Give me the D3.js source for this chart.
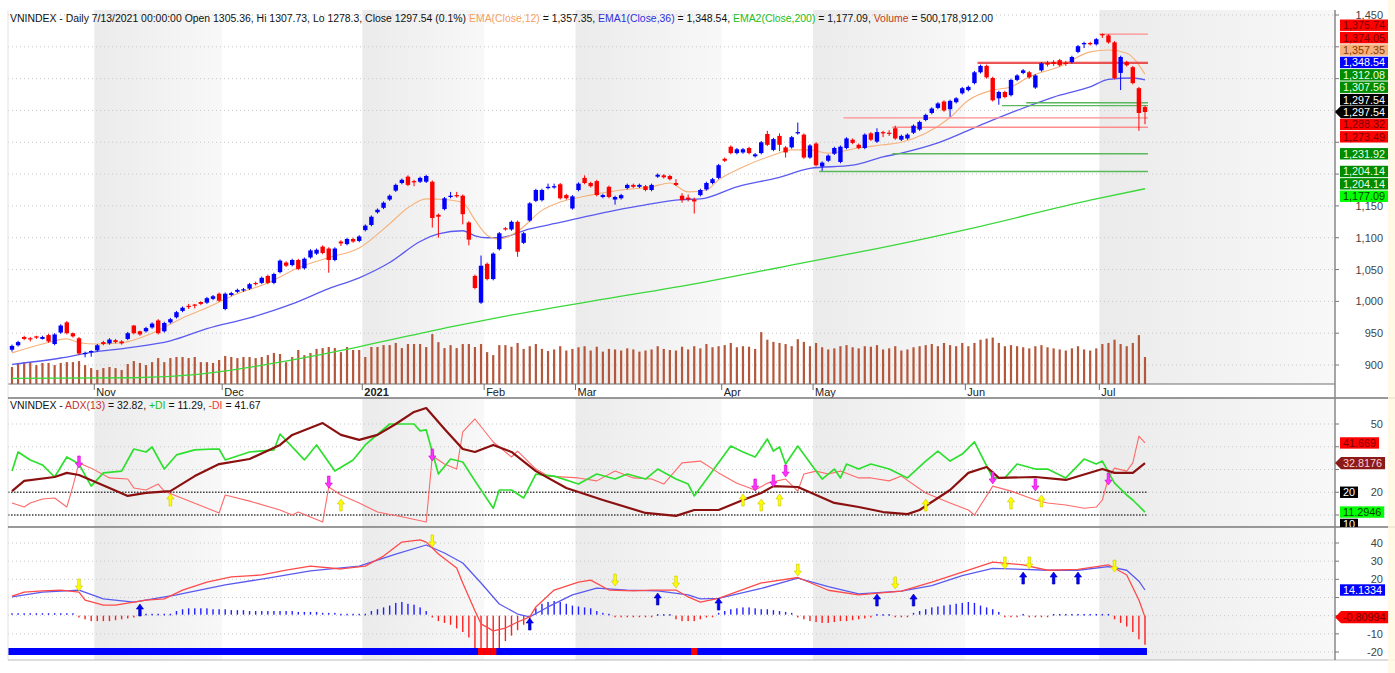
<!DOCTYPE html>
<html>
<head>
<meta charset="utf-8">
<script src="https://cdn.jsdelivr.net/npm/d3@7"></script>
<style>
  body { margin: 0; background: #fff; }
  svg { display: block; font-family: "Liberation Sans", Arial, sans-serif; }
</style>
</head>
<body>
<svg width="1395" height="673"></svg>
<script>
// ---- data ----
// daily bars, [open, high, low, close]
const ohlc = [
  [924,932,921,930],[931,938,929,936],[944,946,939,941],[942,944,937,941],[945,946,941,943],
  [941,946,940,944],[947,949,935,937],[933,950,931,948],[951,964,949,962],[967,969,948,950],
  [950,951,943,945],[942,944,916,918],[918,921,912,919],[920,923,913,922],[923,933,921,931],
  [936,938,931,933],[934,942,932,940],[939,941,934,936],[937,939,932,934],[941,952,939,950],
  [962,963,948,950],[953,954,946,948],[953,960,951,958],[959,967,957,965],[970,972,948,950],
  [953,968,951,966],[967,974,965,972],[975,985,973,983],[985,992,983,990],[993,996,988,991],
  [995,996,989,994],[999,1000,994,996],[998,1007,996,1005],[1004,1010,1002,1008],[1012,1014,999,1001],
  [988,1014,986,1012],[1010,1015,1008,1013],[1015,1020,1013,1018],[1017,1021,1015,1019],[1020,1029,1018,1027],
  [1029,1031,1025,1027],[1029,1039,1027,1037],[1040,1042,1027,1029],[1029,1045,1027,1043],[1046,1066,1044,1064],
  [1061,1063,1054,1056],[1057,1067,1055,1065],[1065,1067,1049,1051],[1052,1069,1050,1067],[1069,1082,1067,1080],
  [1075,1083,1073,1081],[1086,1088,1074,1076],[1083,1085,1045,1065],[1065,1085,1063,1083],[1094,1096,1087,1091],
  [1090,1100,1088,1098],[1098,1100,1092,1094],[1095,1104,1093,1102],[1112,1121,1110,1119],[1120,1135,1118,1133],
  [1140,1146,1138,1144],[1147,1157,1145,1155],[1160,1168,1158,1166],[1174,1185,1172,1183],[1186,1193,1184,1191],
  [1196,1198,1181,1183],[1189,1191,1181,1187],[1188,1196,1186,1194],[1188,1199,1186,1197],[1188,1190,1116,1131],
  [1136,1138,1100,1133],[1145,1164,1143,1162],[1164,1172,1162,1166],[1167,1172,1163,1165],[1166,1168,1121,1137],
  [1124,1126,1088,1097],[1040,1042,1019,1021],[998,1072,996,1056],[1059,1061,1033,1035],[1035,1077,1033,1075],
  [1082,1109,1080,1107],[1115,1117,1111,1113],[1113,1127,1111,1125],[1125,1127,1070,1078],[1092,1109,1090,1107],
  [1127,1156,1125,1154],[1158,1177,1156,1175],[1159,1177,1157,1175],[1178,1185,1176,1180],[1179,1185,1177,1181],
  [1184,1186,1160,1162],[1167,1169,1160,1162],[1146,1167,1144,1165],[1175,1187,1173,1185],[1194,1198,1184,1186],
  [1186,1188,1179,1181],[1189,1191,1165,1167],[1164,1169,1162,1167],[1180,1182,1162,1164],[1160,1166,1152,1164],
  [1162,1169,1160,1167],[1178,1185,1176,1183],[1183,1185,1178,1180],[1180,1185,1178,1183],[1181,1183,1173,1175],
  [1175,1185,1173,1183],[1196,1201,1194,1199],[1198,1200,1193,1195],[1197,1199,1190,1192],[1186,1192,1181,1183],
  [1166,1170,1155,1159],[1163,1168,1157,1160],[1160,1163,1138,1157],[1167,1177,1165,1175],[1176,1188,1174,1186],
  [1186,1194,1184,1192],[1194,1216,1192,1214],[1224,1226,1219,1221],[1243,1245,1231,1233],[1233,1241,1231,1239],
  [1234,1241,1232,1239],[1241,1243,1231,1233],[1228,1233,1226,1231],[1233,1252,1231,1250],[1263,1268,1244,1246],
  [1238,1257,1236,1255],[1260,1264,1236,1246],[1242,1244,1226,1234],[1242,1260,1240,1258],[1264,1281,1262,1266],
  [1262,1264,1224,1226],[1226,1247,1224,1245],[1248,1250,1212,1214],[1212,1220,1205,1218],[1221,1231,1219,1229],
  [1232,1243,1230,1241],[1219,1245,1217,1243],[1241,1258,1239,1256],[1254,1256,1247,1249],[1246,1248,1239,1241],
  [1241,1264,1239,1262],[1264,1266,1252,1254],[1251,1272,1249,1266],[1266,1268,1258,1264],[1265,1269,1260,1264],
  [1272,1276,1254,1256],[1254,1262,1252,1260],[1256,1264,1254,1262],[1265,1278,1263,1276],[1270,1284,1268,1282],
  [1285,1295,1283,1293],[1296,1305,1294,1303],[1304,1313,1302,1311],[1314,1316,1298,1300],[1302,1317,1290,1315],
  [1313,1321,1311,1319],[1327,1337,1325,1335],[1332,1339,1330,1337],[1343,1362,1341,1360],[1360,1372,1358,1370],
  [1370,1372,1350,1352],[1351,1353,1314,1316],[1319,1331,1309,1329],[1329,1331,1319,1321],[1324,1350,1322,1348],
  [1348,1357,1346,1355],[1359,1365,1357,1363],[1360,1362,1350,1352],[1336,1357,1334,1355],[1363,1376,1361,1374],
  [1375,1378,1369,1372],[1376,1379,1370,1373],[1379,1381,1369,1371],[1375,1378,1370,1373],[1376,1386,1374,1384],
  [1392,1403,1390,1401],[1404,1408,1398,1406],[1406,1408,1402,1404],[1404,1414,1402,1412],[1420,1421,1414,1418],
  [1418,1420,1405,1407],[1407,1409,1349,1351],[1359,1386,1332,1384],[1376,1378,1369,1371],[1368,1370,1341,1343],
  [1335,1337,1268,1296],[1305.36,1307.73,1278.3,1297.54]
];

// volume, millions of shares
const volume = [
  315,390,405,405,350,390,390,350,390,405,405,
  425,350,295,260,295,315,295,260,370,425,
  390,350,405,480,405,480,500,500,480,500,
  405,405,390,445,520,500,480,500,500,480,
  500,535,575,555,405,500,630,535,575,650,
  665,685,665,590,685,630,630,500,685,685,
  720,720,760,665,740,740,740,685,925,775,
  665,720,665,740,740,685,740,590,535,720,
  720,690,760,650,700,740,650,610,640,700,
  620,650,680,700,620,690,600,650,640,620,
  660,640,600,620,640,700,650,630,620,690,
  640,700,660,740,680,700,720,760,680,700,
  690,650,960,820,780,760,740,700,830,780,
  700,760,680,640,660,700,720,680,660,700,
  690,720,640,660,700,620,640,680,700,720,
  740,700,760,720,700,760,700,760,820,840,
  860,760,700,720,700,680,660,700,720,680,
  660,640,620,660,700,640,620,660,740,760,
  820,740,700,760,905,500
];

// moving averages as read, [bar, value]
const ema12 = [[0,919],[5,933],[9,941],[11,935],[14,933],[18,935],[23,950],[28,974],[32,990],[37,1012],
  [42,1029],[47,1053],[52,1069],[57,1084],[62,1122],[65,1147],[68,1161],[71,1160],[74,1155],[76,1128],
  [78,1104],[80,1098],[83,1110],[87,1143],[90,1156],[95,1167],[100,1175],[105,1180],[108,1186],[111,1172],
  [114,1175],[116,1191],[120,1211],[125,1230],[128,1238],[131,1238],[134,1233],[139,1241],[143,1246],[146,1250],
  [150,1264],[154,1289],[157,1316],[161,1332],[164,1337],[167,1353],[172,1369],[177,1392],[180,1395],[183,1390],[186,1357]];
const ema36 = [[0,901],[8,911],[13,920],[19,927],[26,938],[32,957],[39,974],[46,996],[52,1020],[57,1037],
  [62,1061],[67,1094],[70,1106],[74,1111],[76,1103],[78,1100],[80,1100],[85,1114],[90,1124],[97,1139],
  [103,1150],[110,1160],[113,1161],[119,1180],[126,1195],[131,1209],[138,1214],[143,1227],[146,1233],[152,1249],
  [159,1277],[165,1300],[172,1324],[177,1337],[180,1349],[184,1351],[186,1348]];
const ema200 = [[0,879],[20,880],[30,885],[40,898],[50,915],[60,935],[72,960],[80,975],[95,1000],[113,1029],
  [129,1059],[142,1083],[159,1118],[177,1159],[186,1177]];

// support / resistance lines: [level, first bar, type]
const levels = [[1420,179,"res2"],[1375.74,159,"res"],[1374.05,159,"res"],[1312.08,167,"sup"],[1307.56,163,"sup"],
  [1288.32,137,"res2"],[1273.49,145,"res2"],[1231.92,145,"sup"],[1204.14,133,"sup"]];

// ADX(13), +DI, -DI as read, [bar, value]
const adx = [[0,20.5],[2,25],[7,26.7],[9,28.5],[11,27.6],[16,21.9],[19,18.4],[22,19.7],[26,20.5],[30,27.1],
  [34,32.4],[39,34.6],[44,40.8],[46,45.2],[51,50.4],[54,45.2],[57,43],[60,45.2],[63,50],[66,55.3],[68,57],
  [71,47.8],[74,39],[76,37.7],[79,40.8],[82,37.7],[86,29.3],[91,21.9],[97,16.6],[104,10.9],[109,9.6],
  [112,12.2],[116,12.2],[120,16.6],[123,19.7],[125,22.7],[129,22.3],[132,18.8],[135,15.3],[139,13.5],
  [143,11.3],[147,10.4],[149,12.2],[154,21],[157,28.5],[160,31.1],[162,26.3],[168,26.7],[173,25.4],
  [179,30.2],[181,28.5],[184,28.5],[186,32.82]];
const plusDI = [[0,29.3],[1,37.7],[3,34.2],[5,32],[7,26.7],[9,35.5],[11,32.4],[13,22.7],[15,28.5],[18,29.3],
  [20,39],[22,37.7],[23,39.9],[25,30.2],[27,36.4],[30,38.6],[33,39],[34,39],[35,34.2],[39,37.7],[43,38.6],
  [44,45.6],[48,34.2],[50,40.8],[53,29.3],[56,34.2],[58,40.8],[62,50],[66,50],[67,47],[68,47.4],[70,28],
  [72,34.6],[74,33.3],[76,25],[79,13],[80,21],[82,21],[84,17.5],[86,28],[89,27.1],[93,23.6],[96,28],
  [99,25.8],[101,28],[104,25.8],[106,30.2],[109,25.8],[111,23.6],[112,18.4],[118,40.3],[120,37.7],
  [122,35.5],[124,43.4],[125,38.1],[126,39.9],[127,32.4],[129,40.3],[132,29.3],[133,25.8],[135,30.2],
  [136,26.3],[137,32.4],[139,30.2],[141,32.4],[144,30.2],[147,26.3],[150,33.7],[152,38.1],[154,33.7],
  [156,36.8],[158,42.1],[161,26.3],[163,26.3],[165,32.4],[168,30.2],[170,30.2],[173,26.3],[176,34.6],
  [178,32.4],[179,33.7],[181,24],[183,18.8],[184,16.6],[186,11.29]];
const minusDI = [[0,15.3],[2,13.5],[3,15.3],[5,17],[7,17.5],[9,13.5],[10,22.7],[11,32.9],[13,30.6],[16,26.3],
  [19,25.8],[20,21.9],[22,21],[24,23.6],[25,20.5],[27,18.4],[34,10.9],[35,18.8],[39,16.1],[44,12.2],
  [46,10],[47,11.3],[51,6.9],[52,22.3],[54,18.8],[57,15.3],[60,11.3],[64,9.2],[68,6.9],[69,35.9],[71,32.4],
  [73,30.2],[74,46.5],[76,52.2],[79,42.1],[82,35.5],[83,38.1],[86,30.2],[88,27.1],[93,26.3],[96,25],
  [99,29.3],[102,26.3],[105,25.8],[107,23.6],[110,32.9],[113,33.7],[116,28.5],[119,24],[122,21],[124,24],
  [127,25.8],[129,20.5],[130,28],[132,29.3],[134,28],[136,29.3],[139,26.3],[141,26.3],[144,25],[146,27.1],
  [150,19.7],[154,15.3],[157,12.2],[158,10],[161,22.7],[164,20.5],[168,16.6],[170,15.3],[173,14.4],
  [176,13],[178,13.5],[179,16.6],[180,26.3],[181,30.6],[183,29.3],[184,32.9],[185,44.7],[186,41.67]];
const adxDown = [[11,33.3],[52,24.5],[69,36.4],[122,23.2],[125,25],[127,29.3],[161,26.3],[168,23.2],[180,25.8]];
const adxUp = [[26,16.6],[54,14.4],[120,16.6],[123,14.4],[126,16.6],[150,14.4],[164,15.3],[169,16.2]];

// MACD panel, [bar, value]
const macd = [[0,10.8],[2,13],[5,13.6],[8,14.1],[11,13],[12,8.6],[15,5.8],[17,5.8],[20,7.5],[22,8.6],
  [25,9.2],[28,14.1],[32,18.5],[36,21.3],[41,22.4],[45,25.1],[49,27.3],[54,25.7],[58,27.3],[61,32.8],
  [64,40.5],[67,41.7],[68,40.5],[70,33.9],[73,26.2],[74,18],[76,2.7],[77,-4.5],[79,-8.4],[81,-6.8],
  [83,-3.5],[85,-0.7],[86,4.8],[89,14.1],[93,18.5],[95,19.6],[98,14.1],[102,13.6],[105,14.1],[109,14.1],
  [111,10.3],[113,7.5],[116,9.5],[123,18],[129,21],[134,14],[139,11.4],[146,13.5],[151,18.5],[156,24],
  [161,29.5],[166,28],[170,25],[175,25.5],[180,28],[183,22.4],[185,8.6],[186,-0.81]];
const signal = [[0,10.3],[5,13],[11,14.1],[15,9.2],[20,7.5],[27,11.4],[35,16.9],[42,20.7],[49,24.6],[57,27.3],
  [63,33.9],[68,38.9],[71,34.5],[74,29],[77,18],[80,6.4],[83,0.9],[85,-0.7],[88,4.8],[92,11.4],[96,15.2],
  [101,14.1],[106,13.6],[111,11.4],[113,9.2],[116,9.5],[123,15],[129,20.7],[134,16],[139,12],[146,13.5],
  [151,16.5],[156,22],[161,26],[166,25.5],[170,25],[175,25],[180,27],[183,25],[185,19],[186,14.13]];
const hist = [
  0.8,0.8,0.8,0.8,0.8,0.8,0.8,0.8,0.8,0.8,0.8,
  -1,-2,-3,-3,-3,-3,-2.5,-2,-1.5,-1,
  0.5,0.5,0.5,0.5,0.5,0.5,
  2,3,3.5,3.5,3.5,3.5,3,
  3,3,2.5,2.5,2.5,2,2,2,2,2,2,2,2,1.5,1.5,1.5,1.5,1,1,1,
  0.5,0.5,0.5,0.5,0.5,
  2,3,4,5,6.5,7,6,5.5,4,2,
  -1,-3,-4,-5,-7,-9,-12,-19,-20,-20,-20,-18,-14,-11,-8,-5,-2,
  3.5,6,7,7.5,7,6,5,4.5,4,3.5,2,1,0.5,
  -0.5,-0.5,-0.5,-0.5,-0.5,-0.5,-0.5,
  0.3,0.3,0.3,
  -2,-3,-3,-3,-2,-1,-0.5,
  1,2,3,3.5,4,4,3.5,3,3,2.5,2,1.5,1,
  -1,-2,-3,-3.5,-4,-4,-3.5,-3,-3,-2.5,-2,-1.5,-1,
  0.3,0.3,0.3,
  -0.3,-0.3,-0.3,
  1,2,3,4,4.5,5,5.5,6,6.5,7,6.5,5,4,3,1.5,
  -0.4,-0.4,-0.4,
  0.4,
  -0.4,-0.4,-0.4,-0.4,
  0.4,0.4,0.4,0.4,0.4,0.4,0.4,0.4,0.4,0.4,
  -2,-4,-6,-9,-13,-16
];
const ribbonRed = [77, 78, 79, 112];
const macdDown = [[11,16.9],[69,41.1],[99,19.6],[109,18.5],[129,25.1],[145,18],[163,29],[167,29],[181,27.3]];
const macdUp = [[21,3.1],[85,-4.6],[106,9.2],[116,6.4],[142,8.6],[148,8.6],[166,20.7],[171,20.7],[175,20.7]];

// axes
const months = [[14,"Nov"],[35,"Dec"],[58,"2021"],[78,"Feb"],[93,"Mar"],[117,"Apr"],[132,"May"],[157,"Jun"],[179,"Jul"]];
const priceTicks = [1450,1400,1350,1300,1250,1200,1150,1100,1050,1000,950,900];
const adxTicks = [50,40,30,20,10];
const macdTicks = [40,30,20,10,0,-10,-20];

const priceTags = [
  {t:"1,375.74", v:1375.74, k:"red"}, {t:"1,374.05", v:1374.05, k:"red"},
  {t:"1,357.35", v:1357.35, k:"orange"}, {t:"1,348.54", v:1348.54, k:"blue"},
  {t:"1,312.08", v:1312.08, k:"green"}, {t:"1,307.56", v:1307.56, k:"green"},
  {t:"1,297.54", v:1297.54, k:"black"}, {t:"1,297.54", v:1297.54, k:"black", pin:true},
  {t:"1,288.32", v:1288.32, k:"red"}, {t:"1,273.49", v:1273.49, k:"red"},
  {t:"1,231.92", v:1231.92, k:"green"}, {t:"1,204.14", v:1204.14, k:"green"},
  {t:"1,204.14", v:1204.14, k:"green"}, {t:"1,177.09", v:1177.09, k:"lime"}
];
const adxTags = [
  {t:"41.669", v:41.669, k:"red"}, {t:"32.8176", v:32.8176, k:"maroon", pin:true},
  {t:"20", v:20, k:"black"}, {t:"11.2946", v:11.2946, k:"lime"}, {t:"10", v:10, k:"black"}
];
const macdTags = [
  {t:"14.1334", v:14.1334, k:"blue"}, {t:"-0.80994", v:-0.80994, k:"red", pin:true}
];

// ---- drawing ----
let svg = d3.select("svg");
const left = 8, right = 1335;
const main = {top: 10, bottom: 384}, pA = {top: 398, bottom: 527}, pM = {top: 528, bottom: 660};

let x = d3.scaleLinear().domain([0, ohlc.length - 1]).range([12, 1145]),
    yP = d3.scaleLinear().domain([900, 1450]).range([365, 15]),
    yV = d3.scaleLinear().domain([0, 1000]).range([384, 330]),
    yA = d3.scaleLinear().domain([10, 50]).range([515, 424]),
    yM = d3.scaleLinear().domain([-20, 40]).range([652, 543]);

const tagStyle = {
  red: ["#ff0000", "#7a0000"], orange: ["#f6b07c", "#8a3a00"], blue: ["#0000ff", "#ffffff"],
  green: ["#008c00", "#e6ffe6"], black: ["#000000", "#ffffff"], lime: ["#00ff00", "#004000"],
  maroon: ["#8b1a1a", "#ffd0d0"]
};

let defs = svg.append("defs");
let grad = defs.append("linearGradient").attr("id", "band").attr("x1", 0).attr("x2", 1).attr("y1", 0).attr("y2", 0);
grad.append("stop").attr("offset", "0%").attr("stop-color", "#ebebeb");
grad.append("stop").attr("offset", "100%").attr("stop-color", "#f8f8f8");

[["cMain", main], ["cA", pA], ["cM", pM]].forEach(function(c) {
  defs.append("clipPath").attr("id", c[0]).append("rect")
    .attr("x", left).attr("y", c[1].top).attr("width", right - left).attr("height", c[1].bottom - c[1].top);
  defs.append("clipPath").attr("id", c[0] + "R").append("rect")
    .attr("x", right).attr("y", c[1].top).attr("width", 60).attr("height", c[1].bottom - c[1].top);
});

// month bands in every panel
const bandEdges = [];
for (let k = 0; k < months.length; k += 2) {
  let x0 = x(months[k][0]) - 3,
      x1 = k + 1 < months.length ? x(months[k + 1][0]) - 3 : right;
  bandEdges.push([x0, x1]);
}
[main, pA, pM].forEach(function(p) {
  svg.append("g").selectAll("rect").data(bandEdges).enter().append("rect")
    .attr("x", d => d[0]).attr("width", d => d[1] - d[0])
    .attr("y", p.top).attr("height", p.bottom - p.top)
    .attr("fill", "url(#band)");
});

// grid
function grid(ticks, y, p) {
  svg.append("g").selectAll("line").data(ticks).enter().append("line")
    .attr("x1", left).attr("x2", right).attr("y1", d => y(d)).attr("y2", d => y(d))
    .attr("stroke", "#c8c8c8").attr("stroke-dasharray", "1,3")
    .attr("display", d => (y(d) < p.top + 2 || y(d) > p.bottom - 2) ? "none" : null);
}
grid(priceTicks, yP, main);
grid(adxTicks, yA, pA);
grid(macdTicks, yM, pM);

// ---- main panel ----
let gMain = svg.append("g").attr("clip-path", "url(#cMain)");

gMain.append("g").selectAll("rect").data(volume).enter().append("rect")
  .attr("x", (d, i) => x(i) - 1.1).attr("width", 2.2)
  .attr("y", d => yV(d)).attr("height", d => yV(0) - yV(d))
  .attr("fill", "#b5573a");

function drawLine(g, data, y, color, width, curve) {
  g.append("path").datum(data)
    .attr("fill", "none").attr("stroke", color).attr("stroke-width", width)
    .attr("stroke-linejoin", "round")
    .attr("d", d3.line().x(d => x(d[0])).y(d => y(d[1])).curve(curve || d3.curveLinear));
}
drawLine(gMain, ema200, yP, "#3ad83a", 1.3, d3.curveMonotoneX);
drawLine(gMain, ema36, yP, "#5a5af0", 1.3, d3.curveMonotoneX);
drawLine(gMain, ema12, yP, "#f7b27a", 1.1, d3.curveMonotoneX);

const levelColor = {res: "#e83030", res2: "#ff8c8c", sup: "#5cb85c"};
gMain.append("g").selectAll("line").data(levels).enter().append("line")
  .attr("x1", d => x(d[1]) - 3).attr("x2", x(ohlc.length - 1) + 3)
  .attr("y1", d => yP(d[0])).attr("y2", d => yP(d[0]))
  .attr("stroke", d => levelColor[d[2]])
  .attr("stroke-width", d => d[2] === "res" ? 1 : 1.4);

let candle = gMain.append("g").selectAll("g").data(ohlc).enter().append("g");
candle.append("line")
  .attr("x1", (d, i) => x(i)).attr("x2", (d, i) => x(i))
  .attr("y1", d => yP(d[1])).attr("y2", d => yP(d[2]))
  .attr("stroke", d => d[3] >= d[0] ? "#0000ff" : "#ff0000").attr("stroke-width", 1);
candle.append("rect")
  .attr("x", (d, i) => x(i) - 2.2).attr("width", 4.4)
  .attr("y", d => yP(Math.max(d[0], d[3])))
  .attr("height", d => Math.max(1.2, Math.abs(yP(d[0]) - yP(d[3]))))
  .attr("fill", d => d[3] >= d[0] ? "#0000ff" : "#ff0000");

// header
let head = svg.append("text").attr("x", 10).attr("y", 22).attr("font-size", 10.45).attr("fill", "#111");
[["VNINDEX - Daily 7/13/2021 00:00:00 Open 1305.36, Hi 1307.73, Lo 1278.3, Close 1297.54 (0.1%) ", "#111"],
 ["EMA(Close,12)", "#f7a060"], [" = 1,357.35, ", "#111"], ["EMA1(Close,36)", "#3030e0"], [" = 1,348.54, ", "#111"],
 ["EMA2(Close,200)", "#20c020"], [" = 1,177.09, ", "#111"], ["Volume", "#c04020"], [" = 500,178,912.00", "#111"]]
  .forEach(function(s) { head.append("tspan").attr("fill", s[1]).text(s[0]); });

// x axis
svg.append("line").attr("x1", left).attr("x2", right).attr("y1", 384).attr("y2", 384).attr("stroke", "#707070");
let mt = svg.append("g").selectAll("g").data(months).enter().append("g");
mt.append("line").attr("x1", d => x(d[0]) - 3).attr("x2", d => x(d[0]) - 3)
  .attr("y1", 384).attr("y2", 390).attr("stroke", "#707070");
mt.append("text").attr("x", d => x(d[0]) - 1).attr("y", 396).attr("font-size", 11)
  .attr("font-weight", d => d[1] === "2021" ? "bold" : null).attr("fill", "#222").text(d => d[1]);

// ---- ADX panel ----
let gA = svg.append("g").attr("clip-path", "url(#cA)");
[20, 10].forEach(function(v) {
  gA.append("line").attr("x1", left).attr("x2", x(ohlc.length - 1) + 2)
    .attr("y1", yA(v)).attr("y2", yA(v)).attr("stroke", "#444").attr("stroke-width", 1.4)
    .attr("stroke-dasharray", "1.5,1.5");
});
drawLine(gA, minusDI, yA, "#ff6a6a", 1.1);
drawLine(gA, plusDI, yA, "#2ee02e", 1.7);
drawLine(gA, adx, yA, "#8b1010", 2.2);

function arrowPath(up) {
  return up ? "M-1.3,6 L1.3,6 L1.3,-1 L3.6,-1 L0,-6 L-3.6,-1 L-1.3,-1 Z"
            : "M-1.3,-6 L1.3,-6 L1.3,1 L3.6,1 L0,6 L-3.6,1 L-1.3,1 Z";
}
function arrows(g, data, y, up, fill, edge) {
  g.append("g").selectAll("path").data(data).enter().append("path")
    .attr("transform", d => "translate(" + x(d[0]) + "," + y(d[1]) + ")")
    .attr("d", arrowPath(up)).attr("fill", fill).attr("stroke", edge).attr("stroke-width", 0.6);
}
arrows(gA, adxDown, yA, false, "#ff33ff", "#d000d0");
arrows(gA, adxUp, yA, true, "#ffff00", "#c8c800");

let at = svg.append("text").attr("x", 10).attr("y", 409).attr("font-size", 10.45).attr("fill", "#111");
[["VNINDEX - ", "#111"], ["ADX(13)", "#c03030"], [" = 32.82, ", "#111"], ["+DI", "#20c020"],
 [" = 11.29, ", "#111"], ["-DI", "#ff3030"], [" = 41.67", "#111"]]
  .forEach(function(s) { at.append("tspan").attr("fill", s[1]).text(s[0]); });

// ---- MACD panel ----
let gM = svg.append("g").attr("clip-path", "url(#cM)");
gM.append("g").selectAll("rect").data(hist).enter().append("rect")
  .attr("x", (d, i) => x(i) - 0.7).attr("width", 1.4)
  .attr("y", d => d > 0 ? yM(d) - 1 : yM(0))
  .attr("height", d => Math.max(1.6, Math.abs(yM(d) - yM(0))))
  .attr("fill", d => d > 0 ? "#2020ff" : "#ff2020");
drawLine(gM, signal, yM, "#5a5af0", 1.3);
drawLine(gM, macd, yM, "#ff4a4a", 1.3);
arrows(gM, macdDown, yM, false, "#ffff00", "#c8c800");
arrows(gM, macdUp, yM, true, "#0000ff", "#0000a0");

gM.append("rect").attr("x", left).attr("width", x(ohlc.length - 1) + 2 - left)
  .attr("y", 648).attr("height", 7).attr("fill", "#0000ff");
gM.append("g").selectAll("rect").data(ribbonRed).enter().append("rect")
  .attr("x", d => x(d) - 3).attr("width", 6.1).attr("y", 648).attr("height", 7).attr("fill", "#ff0000");

// ---- frames and right axis ----
svg.append("line").attr("x1", left).attr("x2", left).attr("y1", main.top).attr("y2", pM.bottom).attr("stroke", "#e2e2e2");
[pA.top, pA.bottom].forEach(function(yy) {
  svg.append("line").attr("x1", left).attr("x2", 1395).attr("y1", yy).attr("y2", yy)
    .attr("stroke", "#777").attr("stroke-width", 1.5);
});
svg.append("line").attr("x1", left).attr("x2", 1395).attr("y1", pM.bottom).attr("y2", pM.bottom).attr("stroke", "#bbb");
svg.append("line").attr("x1", right).attr("x2", right).attr("y1", main.top).attr("y2", pM.bottom)
  .attr("stroke", "#888").attr("stroke-width", 1.5);

function layout(tags, y, h) {
  let pos = tags.map(t => y(t.v)),
      p = Math.max(0, tags.findIndex(t => t.pin));
  for (let k = p - 1; k >= 0; k--) pos[k] = Math.min(pos[k], pos[k + 1] - h);
  for (let k = p + 1; k < tags.length; k++) pos[k] = Math.max(pos[k], pos[k - 1] + h);
  return pos;
}

const tagH = 12.4;

// axis with value tags on top; a tick label that sits under a tag is left out
function rightAxis(ticks, y, tags, fmt, clip) {
  let g = svg.append("g").attr("clip-path", "url(#" + clip + "R)"),
      pos = layout(tags, y, tagH);
  let boxes = [];
  let gt = g.append("g");
  tags.forEach(function(t, k) {
    let st = tagStyle[t.k], yy = pos[k];
    let tg = gt.append("g");
    let txt = tg.append("text").attr("x", 1343).attr("y", yy + 4).attr("font-size", 10.8)
      .attr("fill", st[1]).text(t.t);
    let w = txt.node().getComputedTextLength() + 6;
    boxes.push([yy, 1340 + w]);
    if (t.pin) {
      tg.insert("path", "text")
        .attr("d", "M" + right + "," + yy + " L1341," + (yy - tagH / 2) + " H" + (1340 + w) +
                   " V" + (yy + tagH / 2) + " H1341 Z")
        .attr("fill", st[0]);
    } else {
      tg.insert("rect", "text").attr("x", 1340).attr("y", yy - tagH / 2 + 0.5)
        .attr("width", w).attr("height", tagH - 1).attr("fill", st[0]);
    }
  });
  let ga = g.insert("g", "g");
  ticks.forEach(function(v) {
    ga.append("line").attr("x1", right).attr("x2", right + 4).attr("y1", y(v)).attr("y2", y(v)).attr("stroke", "#777");
    let lab = ga.append("text").attr("x", 1383).attr("y", y(v) + 4).attr("text-anchor", "end")
      .attr("font-size", 11).attr("fill", "#444").text(fmt(v));
    let lw = lab.node().getComputedTextLength();
    let hidden = boxes.some(b => Math.abs(b[0] - y(v)) < 9.5 && b[1] > 1383 - lw);
    if (hidden) lab.remove();
  });
}

rightAxis(priceTicks, yP, priceTags, d3.format(","), "cMain");
rightAxis(adxTicks, yA, adxTags, String, "cA");
rightAxis(macdTicks, yM, macdTags, String, "cM");

// pale strip on the far right edge
svg.append("rect").attr("x", 1388).attr("y", 0).attr("width", 7).attr("height", 673)
  .attr("fill", "#fff8e0").attr("opacity", 0.85);
</script>
</body>
</html>
